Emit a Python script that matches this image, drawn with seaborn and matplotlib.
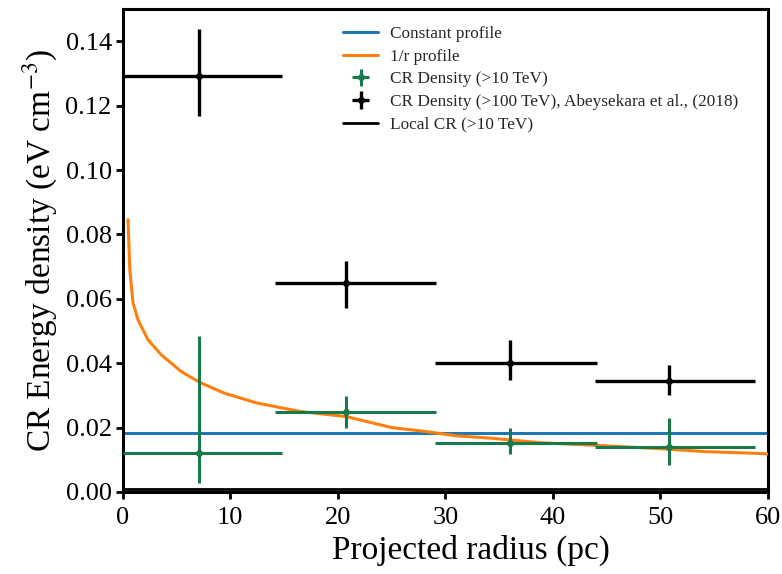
import numpy as np
import pandas as pd
import matplotlib
matplotlib.use("Agg")
import matplotlib.pyplot as plt
import seaborn as sns
from matplotlib.lines import Line2D

# ---- data ----
bin_centers = [7.1, 20.8, 36.0, 50.8]
bin_lo = [0.0, 14.2, 29.0, 43.9]
bin_hi = [14.8, 29.1, 44.1, 58.8]

high_e_density = [0.1292, 0.0649, 0.0402, 0.0346]
high_e_up = [0.0145, 0.0067, 0.0069, 0.0049]
high_e_down = [0.0125, 0.0078, 0.0054, 0.0044]

low_e_density = [0.0120, 0.0248, 0.0153, 0.0141]
low_e_up = [0.0365, 0.0051, 0.0046, 0.0089]
low_e_down = [0.0093, 0.0048, 0.0035, 0.0057]

constant_level = 0.01845
local_cr_level = 0.0008

r_profile_x = [0.49, 0.65, 0.95, 1.41, 2.34, 3.58, 5.43, 7.18, 9.43, 12.5, 16.5,
               20.8, 25.0, 28.1, 31.1, 34.2, 38.8, 45.0, 49.6, 54.3, 58.9, 60.0]
r_profile_y = [0.0846, 0.0691, 0.0588, 0.0535, 0.0473, 0.0426, 0.0374, 0.0340,
               0.0307, 0.0276, 0.0250, 0.0234, 0.0200, 0.0188, 0.0174, 0.0167,
               0.0153, 0.0143, 0.0135, 0.0125, 0.0120, 0.0118]

labels = ["Constant profile", "1/r profile", "CR Density (>10 TeV)",
          "CR Density (>100 TeV), Abeysekara et al., (2018)", "Local CR (>10 TeV)"]

BLUE = "#1f77b4"
ORANGE = "#ff7f0e"
GREEN = "#18794a"

sns.set_theme(style="ticks")
plt.rcParams["font.family"] = ["Liberation Serif", "DejaVu Serif"]
plt.rcParams["mathtext.fontset"] = "stix"

fig = plt.figure(figsize=(7.82, 5.74), dpi=100)
ax = fig.add_axes([0.157, 0.143, 0.825, 0.841])

# constant profile
ax.axhline(constant_level, color=BLUE, lw=2.2, zorder=2)
# local CR
ax.axhline(local_cr_level, color="black", lw=2.0, zorder=2)

# 1/r profile
prof = pd.DataFrame({"r": r_profile_x, "w": r_profile_y})
sns.lineplot(data=prof, x="r", y="w", color=ORANGE, lw=2.2, ax=ax,
             estimator=None, sort=False, zorder=3)

c = np.array(bin_centers)
xerr = [c - np.array(bin_lo), np.array(bin_hi) - c]

ax.errorbar(c, low_e_density, xerr=xerr, yerr=[low_e_down, low_e_up],
            fmt="o", color=GREEN, ms=4, elinewidth=2.2, capsize=0, zorder=4)
ax.errorbar(c, high_e_density, xerr=xerr, yerr=[high_e_down, high_e_up],
            fmt="o", color="black", ms=4, elinewidth=2.4, capsize=0, zorder=4)

ax.set_xlim(0, 60)
ax.set_ylim(0, 0.15)
ax.set_xticks(np.arange(0, 61, 10))
ax.set_yticks(np.arange(0, 0.141, 0.02))
ax.set_yticklabels([f"{v:.2f}" for v in np.arange(0, 0.141, 0.02)])
ax.tick_params(axis="both", labelsize=19, width=2, length=5, direction="out",
               color="black", labelcolor="black", pad=3)
ax.tick_params(axis="x", pad=6)
for s in ax.spines.values():
    s.set_linewidth(2.2)
    s.set_color("black")

ax.set_xlabel("Projected radius (pc)", fontsize=24, color="black", labelpad=4)
ax.xaxis.label.set_x(0.54)
ax.set_ylabel("CR Energy density (eV cm$^{-3}$)", fontsize=24, color="black",
              labelpad=4)

# legend
h_const = Line2D([], [], color=BLUE, lw=2.2)
h_r = Line2D([], [], color=ORANGE, lw=2.2)
h_low = ax.errorbar([], [], xerr=[], yerr=[], fmt="o", color=GREEN, ms=4,
                    elinewidth=2.2, capsize=0)
h_high = ax.errorbar([], [], xerr=[], yerr=[], fmt="o", color="black", ms=4,
                     elinewidth=2.4, capsize=0)
h_local = Line2D([], [], color="black", lw=2.0)
ax.legend([h_const, h_r, h_low, h_high, h_local], labels,
          loc="upper left", bbox_to_anchor=(0.318, 0.997), frameon=False,
          fontsize=12.4, handlelength=2.0, handletextpad=0.7, labelspacing=0.38)

fig.savefig("out.png", dpi=100)
